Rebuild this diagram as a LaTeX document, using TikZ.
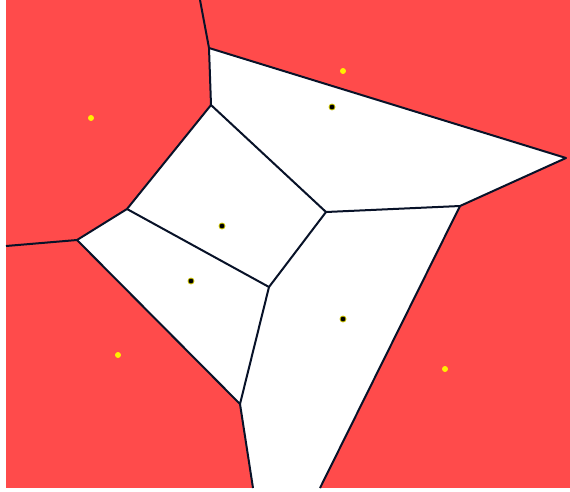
\documentclass[tikz,border=0pt]{standalone}
\usepackage{xcolor}
\usepackage{tikz}
\definecolor{cellred}{RGB}{255,75,75}
\definecolor{edgeblue}{RGB}{8,18,40}
\definecolor{siteyel}{RGB}{255,240,0}

\begin{document}
\begin{tikzpicture}[x=1pt, y=-1pt,
  edge/.style={draw=edgeblue, line width=2pt, line join=round},
  outer/.style={fill=siteyel, draw=none},
  inner/.style={fill=black, draw=siteyel!60!olive, line width=0.8pt}]
  \useasboundingbox (0,0) rectangle (570,491);
  % background of outer cells
  \fill[cellred] (6,0) rectangle (570,488);
  % vertices
  \coordinate (vA) at (200,0);
  \coordinate (vB) at (209,48);
  \coordinate (vC) at (211,105);
  \coordinate (vD) at (566,158);
  \coordinate (vE) at (460,206);
  \coordinate (vF) at (326,212);
  \coordinate (vG) at (127,209);
  \coordinate (vH) at (77,240);
  \coordinate (vI) at (6,246);
  \coordinate (vJ) at (269,287);
  \coordinate (vK) at (240,404);
  \coordinate (vL) at (253,488);
  \coordinate (vM) at (320,488);
  % inner cells
  \fill[white] (vB) -- (vD) -- (vE) -- (vF) -- (vC) -- cycle;
  \fill[white] (vC) -- (vF) -- (vJ) -- (vG) -- cycle;
  \fill[white] (vG) -- (vJ) -- (vK) -- (vH) -- cycle;
  \fill[white] (vF) -- (vE) -- (vM) -- (vL) -- (vK) -- (vJ) -- cycle;
  % edges
  \draw[edge] (vA) -- (vB) -- (vC);
  \draw[edge] (vB) -- (vD) -- (vE) -- (vF) -- (vC) -- (vG) -- (vH) -- (vI);
  \draw[edge] (vG) -- (vJ) -- (vF);
  \draw[edge] (vJ) -- (vK) -- (vH);
  \draw[edge] (vK) -- (vL);
  \draw[edge] (vE) -- (vM);
  % sites
  \foreach \p/\n in {{343,71}/s1, {91,118}/s2, {118,355}/s3, {445,369}/s4}
    \node[outer, circle, inner sep=0pt, minimum size=6pt] (\n) at (\p) {};
  \foreach \p/\n in {{332,107}/t1, {222,226}/t2, {191,281}/t3, {343,319}/t4}
    \node[inner, circle, inner sep=0pt, minimum size=6pt] (\n) at (\p) {};
\end{tikzpicture}
\end{document}
